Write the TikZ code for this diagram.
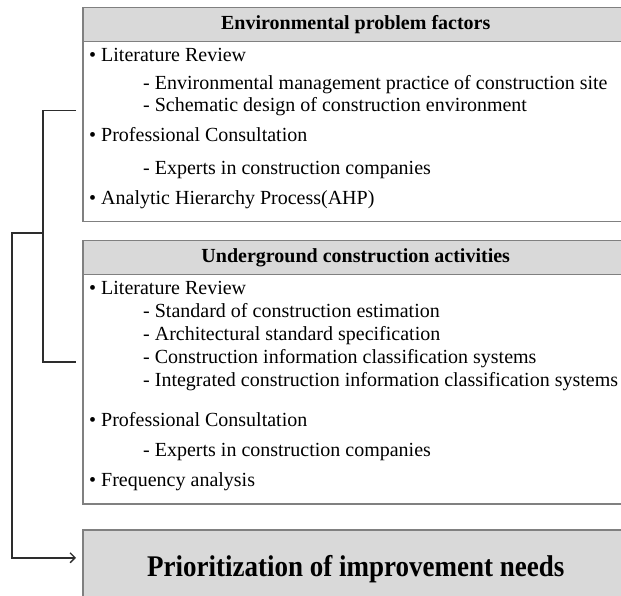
\documentclass[tikz,border=0pt]{standalone}
\usepackage{fontspec}
\setmainfont{Liberation Serif}
\newfontfamily\tallserif[FakeStretch=0.9]{Liberation Serif}
\usepackage{tikz}
\usetikzlibrary{arrows.meta,positioning}
\definecolor{frame}{RGB}{128,128,128}
\definecolor{band}{RGB}{217,217,217}
\definecolor{ink}{RGB}{45,45,45}
\tikzset{
  >={Straight Barb[length=5pt,width=10pt,line width=1.3pt]},
  panel/.style={draw=frame,line width=1.5pt,fill=white,minimum width=546pt,
    anchor=north west,inner sep=0pt},
  head/.style={draw=frame,line width=1.5pt,fill=band,minimum width=546pt,
    minimum height=34pt,anchor=north west,inner sep=0pt,
    font=\fontsize{20}{24}\selectfont\bfseries},
  item/.style={anchor=base west,inner sep=0pt,font=\fontsize{20}{24}\selectfont},
  link/.style={draw=ink,line width=1.5pt},
}
\begin{document}
\begin{tikzpicture}[x=1pt,y=1pt]
  \clip (0,0) rectangle (621,595);
  \fill[white] (0,0) rectangle (621,595);

  \node[panel,minimum height=214pt] (env) at (82,588) {};
  \node[head] (envhead) at (env.north west) {Environmental problem factors};
  \foreach \x/\y/\t in {89/533/{\textbullet\ Literature Review},
      143/505/{- Environmental management practice of construction site},
      143/483/{- Schematic design of construction environment},
      89/453/{\textbullet\ Professional Consultation},
      143/420/{- Experts in construction companies},
      89/390/{\textbullet\ Analytic Hierarchy Process(AHP)}}
    \node[item] at (\x,\y) {\t};

  \node[panel,minimum height=263pt] (ug) at (82,355) {};
  \node[head] (ughead) at (ug.north west) {Underground construction activities};
  \foreach \x/\y/\t in {89/300/{\textbullet\ Literature Review},
      143/277/{- Standard of construction estimation},
      143/254/{- Architectural standard specification},
      143/231/{- Construction information classification systems},
      143/208/{- Integrated construction information classification systems},
      89/169/{\textbullet\ Professional Consultation},
      143/139/{- Experts in construction companies},
      89/109/{\textbullet\ Frequency analysis}}
    \node[item] at (\x,\y) {\t};

  \node[panel,fill=band,minimum height=78pt,
    font=\fontsize{30}{34}\tallserif\bfseries] (prio) at (82,66) {Prioritization of improvement needs};

  \coordinate (fork) at (43,362);
  \coordinate (bend) at (12,362);
  \draw[link] ([xshift=-6pt,yshift=4pt]env.west) -| (fork) |- ([xshift=-6pt,yshift=10pt]ug.west);
  \draw[link,->] (fork) -- (bend) |- ([xshift=-6pt,yshift=11pt]prio.west);
\end{tikzpicture}
\end{document}
